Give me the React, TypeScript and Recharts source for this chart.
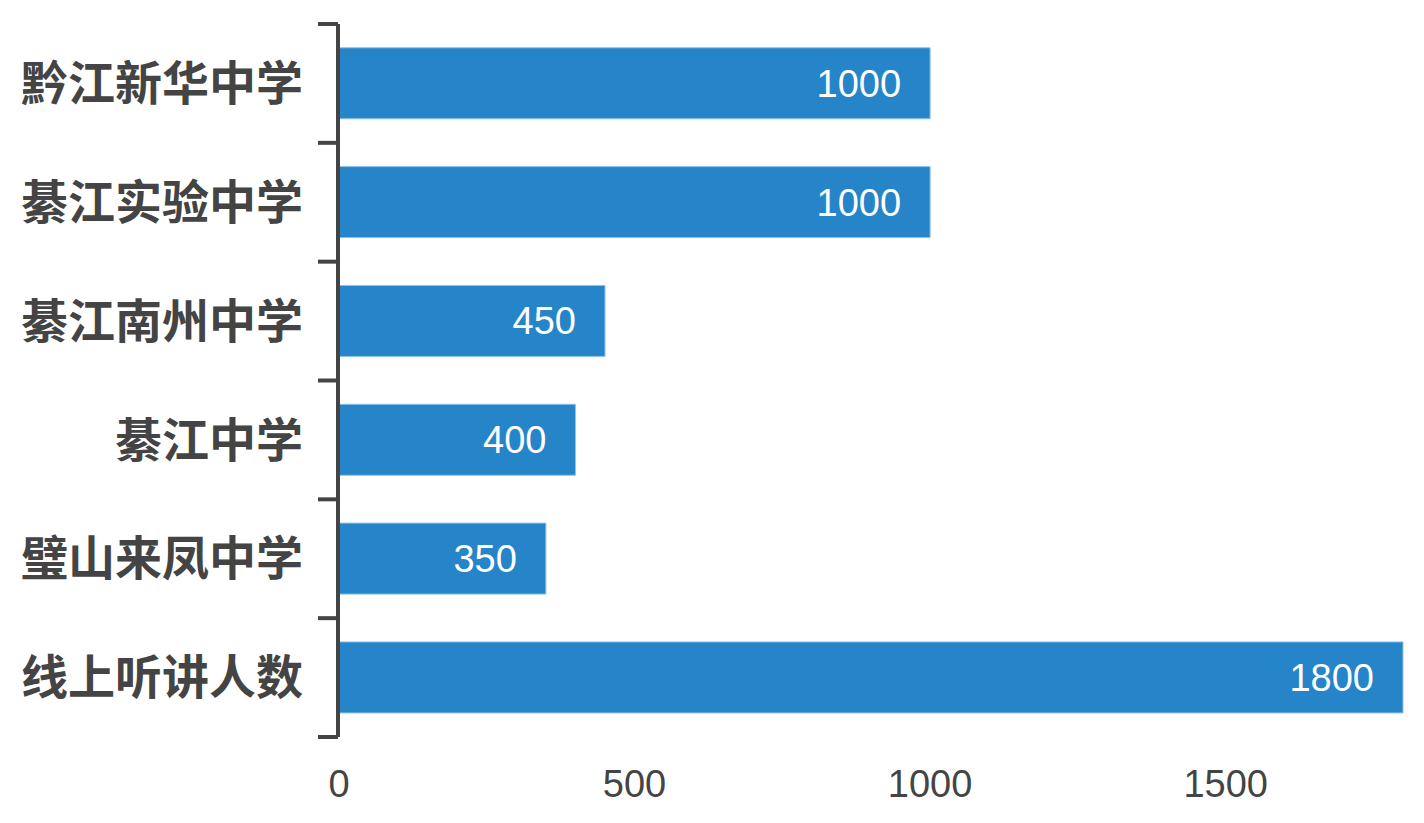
import { Bar, BarChart, LabelList, XAxis, YAxis } from 'recharts';

const schools = ['黔江新华中学', '綦江实验中学', '綦江南州中学', '綦江中学', '璧山来凤中学', '线上听讲人数'];
const attendees = [1000, 1000, 450, 400, 350, 1800];
const xTicks = [0, 500, 1000, 1500];
const bandEdges = [0, 1, 2, 3, 4, 5, 6];

const data = schools.map((name, i) => ({ name, value: attendees[i] }));

const numFont = '"Liberation Sans", Arial, sans-serif';
const cjkFont = '"Noto Sans CJK SC", sans-serif';

export default function App() {
  return (
    <div style={{ position: 'fixed', left: 0, top: 0, width: 1424, height: 823, background: '#fff' }}>
      <BarChart
        width={1424}
        height={823}
        data={data}
        layout="vertical"
        margin={{ top: 24, right: 21, bottom: 25, left: 0 }}
        barCategoryGap="20%"
      >
        <XAxis
          type="number"
          dataKey="value"
          domain={[0, 1800]}
          ticks={xTicks}
          axisLine={false}
          tickLine={false}
          tickSize={0}
          tickMargin={33}
          height={61}
          interval={0}
          tick={{ fill: '#444', fontSize: 38, fontFamily: numFont }}
        />
        {/* boundary ticks between categories, like the source chart */}
        <YAxis
          yAxisId="edges"
          type="number"
          dataKey="value"
          domain={[0, bandEdges.length - 1]}
          allowDataOverflow
          ticks={bandEdges}
          width={338}
          interval={0}
          tickFormatter={() => ''}
          tick={{ fontSize: 1 }}
          tickSize={20}
          axisLine={{ stroke: '#444', strokeWidth: 4 }}
          tickLine={{ stroke: '#444', strokeWidth: 4 }}
        />
        <YAxis
          yAxisId="cat"
          type="category"
          dataKey="name"
          width={1}
          axisLine={false}
          tickLine={false}
          tickSize={0}
          tickMargin={36}
          interval={0}
          tick={{ fill: '#444', fontSize: 47, fontWeight: 700, fontFamily: cjkFont }}
        />
        <Bar
          yAxisId="cat"
          dataKey="value"
          fill="#2684c8"
          stroke="#8fc1ea"
          strokeWidth={1}
          isAnimationActive={false}
        >
          <LabelList
            dataKey="value"
            position="insideRight"
            offset={29}
            fill="#fff"
            fontSize={38}
            fontFamily={numFont}
          />
        </Bar>
      </BarChart>
    </div>
  );
}
